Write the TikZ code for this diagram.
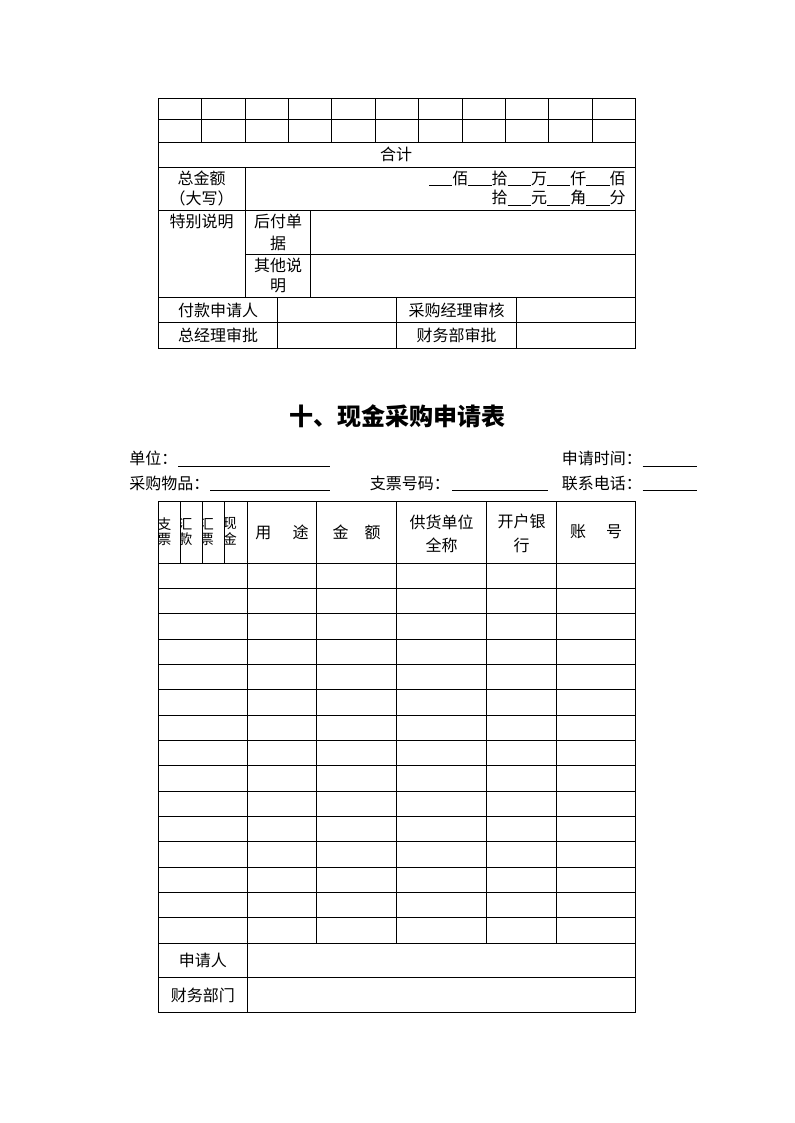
\documentclass[tikz,border=0pt]{standalone}
\usepackage{fontspec}
\setmainfont{Noto Sans CJK SC}
\begin{document}
\begin{tikzpicture}[x=0.75pt,y=-0.75pt,
  tl/.style={line width=0.75pt},
  txt/.style={inner sep=0pt,font=\fontsize{12pt}{14pt}\selectfont},
  vch/.style={inner sep=0pt,font=\fontsize{10.5pt}{12pt}\selectfont},
  ttl/.style={inner sep=0pt,font=\fontsize{18pt}{20pt}\selectfont\bfseries}]
\useasboundingbox (0,0) rectangle (794,1123);
\newcommand{\ul}{\rule[-1.5pt]{17.5pt}{0.75pt}}
% ---------------- top table ----------------
\draw[tl] (158.3,98.3) rectangle (635.7,348.3);
\foreach \y in {120,142.3,167.7,210.7,297.3,322.3}
  \draw[tl] (158.3,\y) -- (635.7,\y);
\draw[tl] (245,254.3) -- (635.7,254.3);
\foreach \i in {1,...,10}
  \draw[tl] ({158.3+\i*43.4},98.3) -- ({158.3+\i*43.4},142.3);
\draw[tl] (245,167.7) -- (245,297.3);
\draw[tl] (310.7,210.7) -- (310.7,297.3);
\foreach \x in {277.7,396.7,516.7}
  \draw[tl] (\x,297.3) -- (\x,348.3);
\node[txt] (heji) at (396,154.5) {合计};
\node[txt] (zje) at (201.5,178.5) {总金额};
\node[txt] (dx) at (201.5,198) {（大写）};
\node[txt,anchor=east] (amt1) at (626,178.5) {\ul 佰\ul 拾\ul 万\ul 仟\ul 佰};
\node[txt,anchor=east] (amt2) at (626,198) {拾\ul 元\ul 角\ul 分};
\node[txt] (tbsm) at (201.5,221) {特别说明};
\node[txt] (hfd) at (278,221) {后付单};
\node[txt] (hfj) at (278,243) {据};
\node[txt] (qts) at (278,265) {其他说};
\node[txt] (qtm) at (278,286) {明};
\node[txt] (fksqr) at (218,310) {付款申请人};
\node[txt] (cgjl) at (456.7,310) {采购经理审核};
\node[txt] (zjl) at (218,335) {总经理审批};
\node[txt] (cwb) at (456.7,335) {财务部审批};
% ---------------- title & form ----------------
\node[ttl] (title) at (397,416.5) {十、现金采购申请表};
\node[txt,anchor=west] (dw) at (129,458.3) {单位：};
\draw[tl] (178.3,466) -- (330,466);
\node[txt,anchor=west] (sqsj) at (561.5,458.3) {申请时间：};
\draw[tl] (642.7,466) -- (696.5,466);
\node[txt,anchor=west] (cgwp) at (129,483.3) {采购物品：};
\draw[tl] (210,490) -- (330,490);
\node[txt,anchor=west] (zphm) at (369.5,483.3) {支票号码：};
\draw[tl] (452,490) -- (548,490);
\node[txt,anchor=west] (lxdh) at (561.5,483.3) {联系电话：};
\draw[tl] (642.7,490) -- (696.5,490);
% ---------------- second table ----------------
\draw[tl] (158.3,501) rectangle (635.7,1012.3);
\draw[tl] (158.3,563.3) -- (635.7,563.3);
\foreach \k in {1,...,14}
  \draw[tl] (158.3,{563.3+\k*25.333}) -- (635.7,{563.3+\k*25.333});
\draw[tl] (158.3,943.3) -- (635.7,943.3);
\draw[tl] (158.3,977.3) -- (635.7,977.3);
\foreach \x in {180.7,202.3,224}
  \draw[tl] (\x,501) -- (\x,563.3);
\draw[tl] (247.3,501) -- (247.3,1012.3);
\foreach \x in {316.7,396.7,486.7,556.7}
  \draw[tl] (\x,501) -- (\x,943.3);
% narrow header cells (text clipped by the cells)
\begin{scope}
  \clip (158.3,501) rectangle (180.7,563.3);
  \node[vch,anchor=west] (zp1) at (157,524) {支};
  \node[vch,anchor=west] (zp2) at (157,539) {票};
\end{scope}
\begin{scope}
  \clip (180.7,501) rectangle (202.3,563.3);
  \node[vch,anchor=west] (hk1) at (178,524) {汇};
  \node[vch,anchor=west] (hk2) at (178,539) {款};
\end{scope}
\begin{scope}
  \clip (202.3,501) rectangle (224,563.3);
  \node[vch,anchor=west] (hp1) at (199.5,524) {汇};
  \node[vch,anchor=west] (hp2) at (199.5,539) {票};
\end{scope}
\begin{scope}
  \clip (224,501) rectangle (247.3,563.3);
  \node[vch,anchor=west] (xj1) at (222.5,524) {现};
  \node[vch,anchor=west] (xj2) at (222.5,539) {金};
\end{scope}
\node[txt] (yt) at (282,532) {用\hspace{16pt}途};
\node[txt] (je) at (356.7,532) {金\hspace{12pt}额};
\node[txt] (ghdw1) at (441.7,522.5) {供货单位};
\node[txt] (ghdw2) at (441.7,545) {全称};
\node[txt] (khyh1) at (521.7,521.5) {开户银};
\node[txt] (khyh2) at (521.7,545) {行};
\node[txt] (zh) at (596.2,532) {账\hspace{15pt}号};
\node[txt] (sqr) at (202.8,960.5) {申请人};
\node[txt] (cwbm) at (202.8,995.5) {财务部门};
\end{tikzpicture}
\end{document}
